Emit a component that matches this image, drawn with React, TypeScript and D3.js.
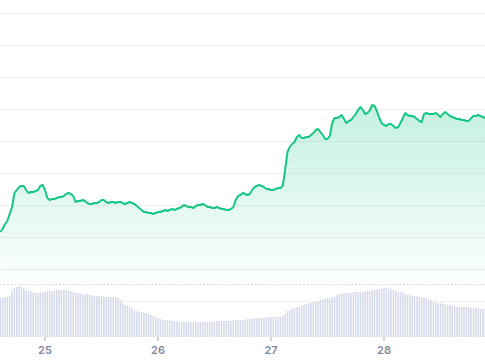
import React from "react";
import * as d3 from "d3";

// 30-minute samples, starting Sep 24 14:30
const startTime = new Date(2023, 8, 24, 14, 30);
const stepMinutes = 30;

const prices = [
  1037, 1040, 1045, 1048, 1055, 1062, 1076, 1079, 1082, 1083,
  1083, 1079, 1076, 1077, 1077, 1078, 1079, 1083, 1084, 1079,
  1071, 1069, 1070, 1070, 1071, 1072, 1072, 1073, 1075, 1076,
  1075, 1073, 1067, 1068, 1068, 1069, 1068, 1066, 1065, 1065,
  1066, 1066, 1067, 1069, 1069, 1067, 1066, 1067, 1067, 1066,
  1067, 1067, 1066, 1065, 1066, 1067, 1066, 1065, 1063, 1061,
  1059, 1057, 1057, 1056, 1056, 1055, 1056, 1057, 1057, 1058,
  1059, 1058, 1059, 1060, 1059, 1060, 1061, 1062, 1064, 1063,
  1062, 1062, 1061, 1063, 1064, 1064, 1065, 1064, 1062, 1062,
  1061, 1061, 1062, 1061, 1060, 1060, 1059, 1059, 1060, 1062,
  1069, 1073, 1074, 1076, 1075, 1074, 1075, 1079, 1082, 1083,
  1084, 1083, 1082, 1080, 1080, 1079, 1079, 1080, 1081, 1081,
  1083, 1099, 1117, 1122, 1125, 1127, 1132, 1134, 1131, 1131,
  1132, 1132, 1134, 1136, 1139, 1140, 1137, 1134, 1130, 1130,
  1133, 1146, 1151, 1151, 1152, 1154, 1150, 1146, 1148, 1149,
  1152, 1155, 1159, 1162, 1159, 1155, 1156, 1159, 1164, 1163,
  1158, 1151, 1146, 1144, 1143, 1145, 1145, 1143, 1141, 1142,
  1146, 1151, 1156, 1154, 1153, 1153, 1152, 1150, 1148, 1147,
  1155, 1156, 1155, 1155, 1155, 1156, 1154, 1152, 1155, 1157,
  1155, 1153, 1152, 1151, 1150, 1150, 1149, 1149, 1148, 1148,
  1151, 1153, 1153, 1154, 1153, 1152, 1151,
];

const volumes = [
  39, 39, 40, 40, 41, 46, 49, 50, 51, 50,
  49, 47, 46, 46, 45, 44, 44, 45, 45, 45,
  46, 46, 46, 47, 47, 47, 47, 47, 47, 46,
  46, 45, 44, 44, 44, 43, 43, 43, 42, 42,
  41, 41, 41, 41, 40, 40, 40, 40, 40, 40,
  39, 37, 34, 32, 31, 30, 29, 27, 26, 25,
  25, 24, 24, 23, 22, 21, 20, 19, 18, 17,
  17, 17, 17, 16, 16, 16, 15, 15, 15, 15,
  15, 15, 15, 15, 15, 15, 15, 15, 15, 15,
  15, 15, 16, 16, 16, 16, 16, 16, 16, 17,
  17, 17, 17, 17, 17, 18, 18, 18, 19, 19,
  19, 19, 19, 20, 20, 20, 20, 20, 20, 20,
  21, 23, 26, 27, 28, 29, 30, 30, 31, 32,
  33, 34, 34, 35, 35, 36, 37, 38, 38, 39,
  39, 40, 40, 42, 43, 43, 44, 44, 44, 44,
  45, 45, 45, 45, 45, 46, 46, 46, 47, 47,
  47, 48, 48, 49, 49, 49, 48, 47, 46, 45,
  45, 44, 43, 42, 42, 41, 41, 41, 40, 40,
  40, 39, 38, 37, 35, 35, 34, 34, 33, 33,
  32, 32, 31, 31, 30, 30, 30, 30, 30, 30,
  29, 29, 29, 29, 28, 28, 28,
];

const dayTicks = [
  new Date(2023, 8, 25),
  new Date(2023, 8, 26),
  new Date(2023, 8, 27),
  new Date(2023, 8, 28),
];

const priceGridTicks = [968, 1000, 1032, 1064, 1096, 1128, 1160, 1192, 1224, 1256];

const W = 485;
const H = 360;

export default function App() {
  const data = prices.map((p, i) => ({
    t: new Date(startTime.getTime() + i * stepMinutes * 60000),
    p,
    v: volumes[i],
  }));

  const x = d3
    .scaleTime()
    .domain([dayTicks[0], dayTicks[3]])
    .range([45, 384]);
  const y = d3.scaleLinear().domain([1000, 1256]).range([269, 13]);
  const yv = d3.scaleLinear().domain([0, 60]).range([337, 277]);

  const line = d3
    .line<any>()
    .x((d) => x(d.t))
    .y((d) => y(d.p));
  const area = d3
    .area<any>()
    .x((d) => x(d.t))
    .y0(284)
    .y1((d) => y(d.p));

  const stepPx = x(new Date(dayTicks[0].getTime() + stepMinutes * 60000)) - x(dayTicks[0]);
  const barW = stepPx * 0.62;
  const fmt = d3.timeFormat("%-d");

  return (
    <svg
      width={W}
      height={H}
      style={{ position: "fixed", left: 0, top: 0, background: "#fff" }}
    >
      <defs>
        <linearGradient id="pg" gradientUnits="userSpaceOnUse" x1="0" y1="100" x2="0" y2="284">
          <stop offset="0" stopColor="#16c784" stopOpacity={0.26} />
          <stop offset="1" stopColor="#16c784" stopOpacity={0.01} />
        </linearGradient>
      </defs>
      {priceGridTicks.map((v) => (
        <line
          key={v}
          x1={0}
          x2={W}
          y1={Math.round(y(v)) + 0.5}
          y2={Math.round(y(v)) + 0.5}
          stroke="#efeff1"
          strokeWidth={1.2}
        />
      ))}
      <path d={area(data) || ""} fill="url(#pg)" />
      <line
        x1={0}
        x2={W}
        y1={284.5}
        y2={284.5}
        stroke="#c4c6cc"
        strokeWidth={1}
        strokeDasharray="1.2 2.5"
      />
      {data.map((d, i) => (
        <rect
          key={i}
          x={x(d.t) - barW / 2}
          y={yv(d.v)}
          width={barW}
          height={yv(0) - yv(d.v)}
          fill="#d5d8e8"
        />
      ))}
      <path
        d={line(data) || ""}
        fill="none"
        stroke="#16c784"
        strokeWidth={2}
        strokeLinejoin="round"
      />
      {dayTicks.map((t, i) => (
        <g key={i} transform={`translate(${x(t)},0)`}>
          <line y1={337} y2={341} stroke="#a7abb5" strokeWidth={1} />
          <text
            y={354}
            textAnchor="middle"
            fontFamily="Inter, 'Noto Sans', sans-serif"
            fontSize={11}
            fontWeight={600}
            fill="#7f879b"
          >
            {fmt(t)}
          </text>
        </g>
      ))}
    </svg>
  );
}
